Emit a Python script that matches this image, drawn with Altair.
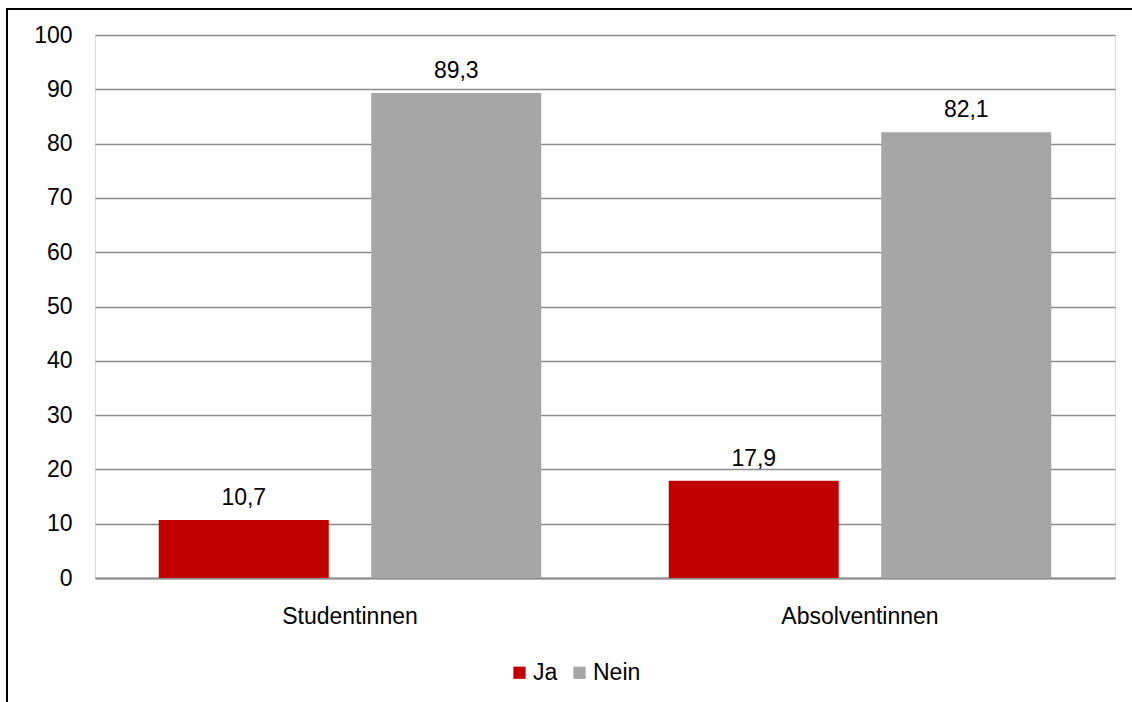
import altair as alt
import pandas as pd

groups = ["Studentinnen", "Studentinnen", "Absolventinnen", "Absolventinnen"]
answers = ["Ja", "Nein", "Ja", "Nein"]
values = [10.7, 89.3, 17.9, 82.1]

category_order = ["Studentinnen", "Absolventinnen"]
answer_order = ["Ja", "Nein"]
answer_colors = ["#C00000", "#A6A6A6"]

df = pd.DataFrame({"gruppe": groups, "antwort": answers, "wert": values})

FONT = "Liberation Sans"
SIZE = 23

x_enc = alt.X(
    "gruppe:N",
    sort=category_order,
    scale=alt.Scale(paddingInner=0, paddingOuter=0),
    axis=alt.Axis(
        title=None,
        labelAngle=0,
        labelFontSize=SIZE,
        labelColor="#000000",
        labelPadding=27,
        ticks=False,
        domainColor="#8C8C8C",
        domainWidth=2,
    ),
)
xoff_enc = alt.XOffset(
    "antwort:N",
    sort=answer_order,
    scale=alt.Scale(paddingInner=0.2, paddingOuter=0.3),
)

base = alt.Chart(df)

bars = base.mark_bar().encode(
    x=x_enc,
    xOffset=xoff_enc,
    y=alt.Y(
        "wert:Q",
        scale=alt.Scale(domain=[0, 100]),
        axis=alt.Axis(
            title=None,
            values=list(range(0, 101, 10)),
            labelFontSize=SIZE,
            labelColor="#000000",
            labelPadding=23,
            ticks=False,
            domain=False,
            gridColor="#8C8C8C",
            gridWidth=1.3,
        ),
    ),
    color=alt.Color(
        "antwort:N",
        sort=answer_order,
        scale=alt.Scale(domain=answer_order, range=answer_colors),
        legend=alt.Legend(
            title=None,
            orient="none",
            legendX=413,
            legendY=626,
            direction="horizontal",
            symbolType="square",
            symbolSize=150,
            symbolStrokeWidth=0,
            labelFontSize=SIZE,
            labelColor="#000000",
            labelOffset=2,
            columnPadding=10,
        ),
    ),
)

labels = base.mark_text(
    dy=-22, fontSize=SIZE, color="#000000", font=FONT
).transform_calculate(
    label="replace(format(datum.wert, '.1f'), '.', ',')"
).encode(
    x=alt.X("gruppe:N", sort=category_order),
    xOffset=alt.XOffset("antwort:N", sort=answer_order),
    y="wert:Q",
    text="label:N",
)

# Outer frame around the chart, running off the right and bottom edges
frame_top = base.mark_rule(color="#000000", strokeWidth=2).encode(
    x=alt.value(-89), x2=alt.value(1100), y=alt.value(-26)
)
frame_left = base.mark_rule(color="#000000", strokeWidth=2).encode(
    x=alt.value(-88), y=alt.value(-27), y2=alt.value(700)
)

chart = (
    alt.layer(bars, labels, frame_top, frame_left)
    .properties(
        width=1020,
        height=543,
        autosize=alt.AutoSizeParams(type="none"),
        padding={"left": 95, "top": 35, "right": 17, "bottom": 124},
    )
    .configure_view(stroke=None)
    .configure_axis(labelFont=FONT)
    .configure_legend(labelFont=FONT)
    .configure(background="#FFFFFF")
)

chart.save("out.html", embed_options={"renderer": "svg", "actions": False})
